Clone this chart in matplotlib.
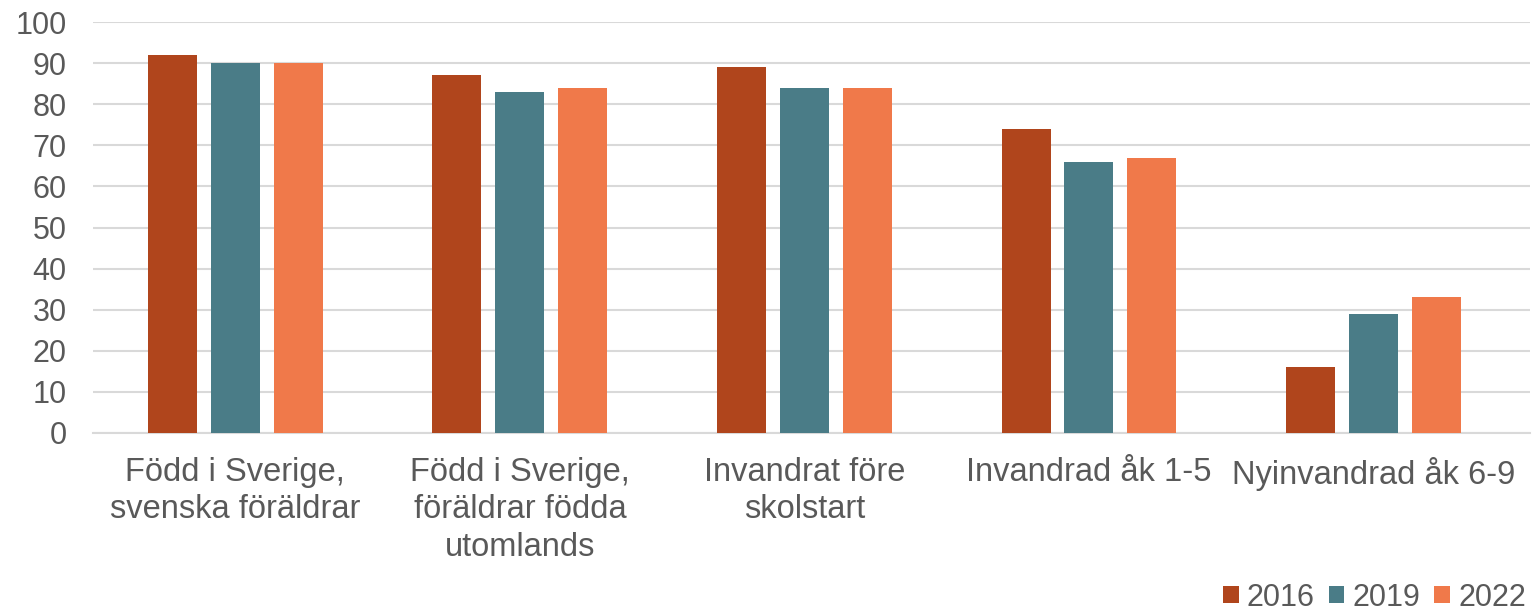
import matplotlib
matplotlib.use("Agg")
import matplotlib.pyplot as plt
import numpy as np

categories = ["Född i Sverige,\nsvenska föräldrar", "Född i Sverige,\nföräldrar födda\nutomlands",
              "Invandrat före\nskolstart", "Invandrad åk 1-5", "Nyinvandrad åk 6-9"]
series_names = ["2016", "2019", "2022"]
v2016 = [92, 87, 89, 74, 16]
v2019 = [90, 83, 84, 66, 29]
v2022 = [90, 84, 84, 67, 33]
yticks = [0, 10, 20, 30, 40, 50, 60, 70, 80, 90, 100]

colors = ["#B0451C", "#4A7C87", "#F0794A"]
plt.rcParams['font.family'] = ['Liberation Sans', 'DejaVu Sans']

fig = plt.figure(figsize=(15.39, 6.12), dpi=100)
ax = fig.add_axes([93/1539, 1-433/612, (1530-93)/1539, (433-22)/612])
x = np.arange(len(categories))
w = 0.172
off = 0.221
for i, (vals, name) in enumerate(zip([v2016, v2019, v2022], series_names)):
    ax.bar(x + (i-1)*off, vals, width=w, color=colors[i], label=name, zorder=3)

ax.set_xlim(-0.5, 4.55)
ax.set_ylim(0, 100)
ax.set_yticks(yticks)
ax.yaxis.grid(True, color="#D9D9D9", linewidth=1.5, zorder=0)
for s in ["top", "right", "left"]:
    ax.spines[s].set_visible(False)
ax.spines["bottom"].set_color("#D9D9D9")
ax.spines["bottom"].set_linewidth(1.5)
ax.tick_params(axis="both", length=0, labelcolor="#595959")
ax.tick_params(axis="y", pad=19, labelsize=22)
ax.tick_params(axis="x", pad=17, labelsize=23.5)
ax.set_xticks(x)
ax.set_xticklabels(categories, linespacing=1.27)

leg = ax.legend(loc="lower right", bbox_to_anchor=(1532/1539, -0.011), bbox_transform=fig.transFigure,
                ncol=3, frameon=False, fontsize=22, handlelength=0.52, handleheight=0.5,
                handletextpad=0.26, columnspacing=0.46, borderaxespad=0.0, borderpad=0.2)
for t in leg.get_texts():
    t.set_color("#595959")

fig.savefig("out.png", dpi=100)
